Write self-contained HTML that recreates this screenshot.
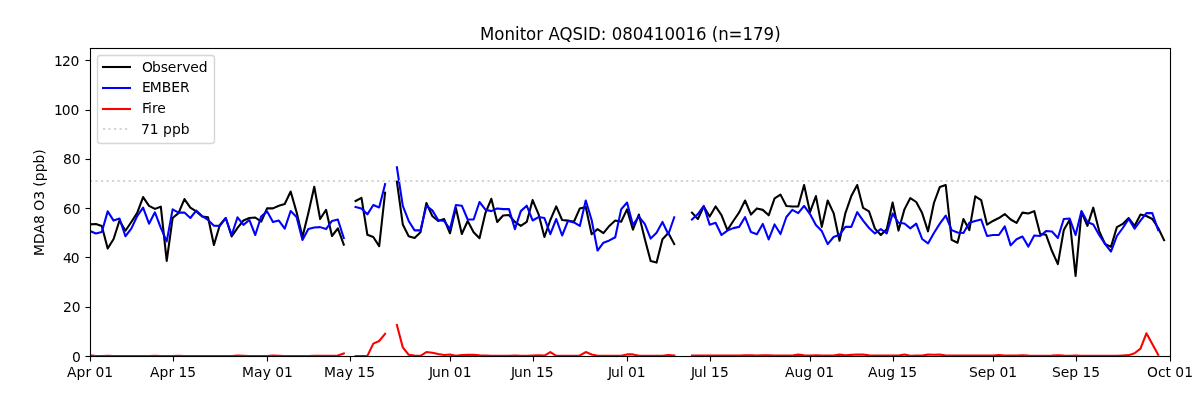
<!DOCTYPE html>
<html lang="en"><head><meta charset="utf-8"><title>Monitor AQSID: 080410016</title>
<style>html,body{margin:0;padding:0;background:#fff}body{width:1200px;height:400px;overflow:hidden}svg{display:block}text{font-family:"DejaVu Sans","Liberation Sans",sans-serif;fill:#000}.t{font-size:13.889px}.ttl{font-size:17.667px}.ln{fill:none;stroke-width:2.0833;stroke-linejoin:round;stroke-linecap:square}.ax{stroke:#000;stroke-width:1.1111;fill:none}</style></head><body>
<svg width="1200" height="400" viewBox="0 0 1200 400">
<rect x="0" y="0" width="1200" height="400" fill="#fff"/>
<defs><clipPath id="c"><rect x="90" y="48" width="1080" height="308"/></clipPath></defs>
<g class="ax">
<path d="M90.5 356.5V361.5"/>
<path d="M173.5 356.5V361.5"/>
<path d="M267.5 356.5V361.5"/>
<path d="M350.5 356.5V361.5"/>
<path d="M450.5 356.5V361.5"/>
<path d="M533.5 356.5V361.5"/>
<path d="M627.5 356.5V361.5"/>
<path d="M710.5 356.5V361.5"/>
<path d="M810.5 356.5V361.5"/>
<path d="M893.5 356.5V361.5"/>
<path d="M993.5 356.5V361.5"/>
<path d="M1076.5 356.5V361.5"/>
<path d="M1170.5 356.5V361.5"/>
<path d="M85.5 356.5H90.5"/>
<path d="M85.5 307.5H90.5"/>
<path d="M85.5 257.5H90.5"/>
<path d="M85.5 208.5H90.5"/>
<path d="M85.5 159.5H90.5"/>
<path d="M85.5 110.5H90.5"/>
<path d="M85.5 60.5H90.5"/>
</g>
<g class="t">
<text x="66.96 76.45 85.51 90.96 95.62 104.2" y="377">Apr 01</text>
<text x="150.08 159.57 168.38 174.08 178.49 187.32" y="377">Apr 15</text>
<text x="241.92 253.89 262.64 270.59 275.26 284.09" y="377">May 01</text>
<text x="324.04 336.01 344.76 352.71 357.13 366.21" y="377">May 15</text>
<text x="428.88 431.95 440.75 449.55 453.7 462.78" y="377">Jun 01</text>
<text x="510.99 514.07 522.87 531.67 536.07 544.65" y="377">Jun 15</text>
<text x="607.89 610.97 619.77 623.63 628.03 636.86" y="377">Jul 01</text>
<text x="691.01 694.09 702.64 706.5 710.9 719.98" y="377">Jul 15</text>
<text x="784.91 794.4 803.2 811.99 816.41 825.24" y="377">Aug 01</text>
<text x="868.03 877.52 886.32 895.11 899.53 908.36" y="377">Aug 15</text>
<text x="969.09 977.64 986.18 994.98 999.39 1008.22" y="377">Sep 01</text>
<text x="1051.96 1060.76 1069.3 1078.1 1082.51 1091.34" y="377">Sep 15</text>
<text x="1146.97 1157.88 1165.52 1170.95 1175.36 1184.19" y="377">Oct 01</text>
</g>
<g class="t">
<text x="71.95" y="362">0</text>
<text x="63.12 71.69" y="312">20</text>
<text x="63.12 70.69" y="263">40</text>
<text x="63.12 71.69" y="214">60</text>
<text x="63.12 71.69" y="164">80</text>
<text x="54.05 61.86 70.44" y="115">100</text>
<text x="54.05 62.11 70.44" y="66">120</text>
</g>
<text class="t" x="-53.53 -41.56 -30.88 -21.39 -12.56 -8.14 2.77 11.59 15.77 21.17 30.23 39.05 47.84" transform="translate(44.000 202.500) rotate(-90)">MDA8 O3 (ppb)</text>
<text class="ttl" x="-159.98 -145.02 -133.96 -122.79 -117.88 -111.21 -100.17 -92.91 -87.31 -75.54 -61.66 -50.45 -45.25 -31.66 -25.72 -19.85 -8.88 2.34 13.58 24.8 36.27 47.26 58.49 69.71 80.95 86.55 93.42 104.36 119.14 130.38 141.6 152.83" transform="translate(630.5 40) scale(0.94 1)">Monitor AQSID: 080410016 (n=179)</text>
<g clip-path="url(#c)">
<path class="ln" stroke="#000" d="M90.00 224.42L95.90 223.93L101.80 225.90L107.70 248.57L113.61 238.96L119.51 220.48L125.41 230.71L131.31 221.96L137.21 212.84L143.11 197.07L149.02 205.94L154.92 208.90L160.82 206.68L166.72 260.89L172.62 218.02L178.52 213.09L184.43 199.04L190.33 207.67L196.23 211.36L202.13 216.54L208.03 217.28L213.93 245.00L219.84 224.92L225.74 218.02L231.64 236.50L237.54 227.87L243.44 220.48L249.34 218.02L255.25 217.52L261.15 221.71L267.05 208.41L272.95 208.41L278.85 205.70L284.75 203.97L290.66 191.53L296.56 212.10L302.46 236.99L308.36 213.09L314.26 186.72L320.16 219.00L326.07 209.76L331.97 236.00L337.87 228.36L343.77 244.63M355.57 201.01L361.48 197.93L367.38 234.77L373.28 236.99L379.18 246.11L385.08 192.76M396.89 181.55L402.79 224.42L408.69 236.25L414.59 237.97L420.49 232.31L426.39 202.99L432.30 216.04L438.20 220.97L444.10 219.00L450.00 233.29L455.90 207.91L461.80 234.03L467.70 220.97L473.61 232.31L479.51 238.22L485.41 213.09L491.31 198.80L497.21 221.96L503.11 215.55L509.02 215.06L514.92 221.96L520.82 225.90L526.72 221.96L532.62 200.03L538.52 214.07L544.43 236.99L550.33 219.99L556.23 206.44L562.13 219.99L568.03 220.60L573.93 221.71L579.84 208.41L585.74 206.93L591.64 234.28L597.54 229.10L603.44 233.05L609.34 225.90L615.25 220.48L621.15 221.71L627.05 209.39L632.95 229.60L638.85 214.57L644.75 238.71L650.66 261.01L656.56 262.61L662.46 239.21L668.36 233.05L674.26 244.13M691.97 212.60L697.87 219.00L703.77 206.44L709.67 216.54L715.57 206.44L721.48 215.06L727.38 230.09L733.28 220.97L739.18 212.35L745.08 200.52L750.98 214.57L756.89 208.41L762.79 209.88L768.69 215.31L774.59 198.30L780.49 194.61L786.39 205.94L792.30 206.44L798.20 206.44L804.10 185.00L810.00 212.10L815.90 196.09L821.80 226.89L827.70 200.52L833.61 213.09L839.51 240.68L845.41 213.09L851.31 196.09L857.21 185.00L863.11 207.91L869.02 211.36L874.92 228.61L880.82 235.02L886.72 229.35L892.62 202.49L898.52 230.58L904.43 209.39L910.33 198.06L916.23 202.00L922.13 213.09L928.03 231.32L933.93 202.99L939.84 186.97L945.74 185.00L951.64 239.82L957.54 242.78L963.44 219.00L969.34 230.09L975.25 196.33L981.15 200.03L987.05 224.67L992.95 220.97L998.85 218.02L1004.75 214.07L1010.66 219.49L1016.56 222.94L1022.46 212.60L1028.36 213.58L1034.26 211.12L1040.16 234.03L1046.07 234.77L1051.97 251.03L1057.87 264.09L1063.77 230.09L1069.67 219.74L1075.57 275.92L1081.48 212.10L1087.38 225.90L1093.28 207.67L1099.18 231.08L1105.08 244.01L1110.98 246.84L1116.89 227.13L1122.79 223.93L1128.69 218.02L1134.59 225.90L1140.49 214.57L1146.39 216.04L1152.30 219.00L1158.20 228.00L1164.10 240.19"/>
<path class="ln" stroke="#00f" d="M90.00 231.08L95.90 233.54L101.80 232.06L107.70 211.36L113.61 220.60L119.51 218.51L125.41 236.25L131.31 228.61L137.21 216.04L143.11 207.67L149.02 223.68L154.92 212.35L160.82 227.87L166.72 241.42L172.62 209.39L178.52 212.60L184.43 212.60L190.33 218.02L196.23 210.62L202.13 216.04L208.03 219.99L213.93 225.65L219.84 225.90L225.74 218.02L231.64 235.02L237.54 217.28L243.44 224.92L249.34 219.99L255.25 235.02L261.15 216.54L267.05 211.36L272.95 221.96L278.85 220.60L284.75 228.61L290.66 210.99L296.56 217.03L302.46 239.95L308.36 229.10L314.26 227.50L320.16 227.13L326.07 229.10L331.97 220.97L337.87 219.49L343.77 237.97M355.57 206.93L361.48 208.41L367.38 214.32L373.28 204.96L379.18 207.42L385.08 184.14M396.89 167.26L402.79 205.94L408.69 220.97L414.59 230.34L420.49 230.34L426.39 205.70L432.30 210.38L438.20 219.99L444.10 220.97L450.00 229.10L455.90 204.96L461.80 205.70L467.70 219.49L473.61 219.49L479.51 202.00L485.41 209.64L491.31 211.12L497.21 208.41L503.11 209.15L509.02 209.15L514.92 229.10L520.82 211.12L526.72 205.70L532.62 220.48L538.52 217.03L544.43 218.02L550.33 234.16L556.23 219.00L562.13 235.51L568.03 220.97L573.93 222.45L579.84 225.90L585.74 200.52L591.64 219.99L597.54 250.54L603.44 242.66L609.34 240.44L615.25 237.24L621.15 209.39L627.05 202.49L632.95 224.92L638.85 216.54L644.75 223.93L650.66 238.59L656.56 232.80L662.46 221.96L668.36 234.28L674.26 217.28M691.97 219.49L697.87 214.07L703.77 205.94L709.67 224.67L715.57 222.70L721.48 235.02L727.38 230.58L733.28 228.12L739.18 226.89L745.08 217.03L750.98 232.06L756.89 234.28L762.79 223.93L768.69 239.45L774.59 224.42L780.49 234.03L786.39 217.03L792.30 209.88L798.20 213.09L804.10 205.94L810.00 214.07L815.90 224.92L821.80 231.08L827.70 244.13L833.61 236.99L839.51 234.77L845.41 226.89L851.31 226.89L857.21 212.10L863.11 220.60L869.02 228.00L874.92 233.42L880.82 229.10L886.72 233.42L892.62 213.58L898.52 222.70L904.43 223.44L910.33 228.36L916.23 223.68L922.13 238.96L928.03 243.40L933.93 233.05L939.84 223.68L945.74 215.55L951.64 230.09L957.54 232.55L963.44 233.05L969.34 222.70L975.25 220.97L981.15 219.49L987.05 236.00L992.95 235.02L998.85 235.02L1004.75 226.39L1010.66 245.37L1016.56 239.21L1022.46 236.50L1028.36 246.60L1034.26 235.51L1040.16 236.00L1046.07 231.08L1051.97 231.57L1057.87 237.97L1063.77 219.00L1069.67 218.51L1075.57 235.02L1081.48 211.12L1087.38 221.96L1093.28 224.42L1099.18 235.02L1105.08 244.01L1110.98 251.53L1116.89 236.00L1122.79 228.00L1128.69 219.00L1134.59 228.61L1140.49 220.60L1146.39 213.09L1152.30 213.09L1158.20 230.09"/>
<path class="ln" stroke="#f00" d="M90.00 355.31L95.90 355.93L101.80 355.93L107.70 355.80L113.61 355.93L119.51 355.93L125.41 355.93L131.31 355.93L137.21 355.93L143.11 355.93L149.02 355.93L154.92 355.80L160.82 355.93L166.72 355.93L172.62 355.93L178.52 355.68L184.43 355.93L190.33 355.93L196.23 355.93L202.13 355.93L208.03 355.93L213.93 355.93L219.84 355.93L225.74 355.93L231.64 355.93L237.54 355.56L243.44 355.80L249.34 355.93L255.25 355.93L261.15 355.93L267.05 355.93L272.95 355.56L278.85 355.80L284.75 355.93L290.66 355.93L296.56 355.93L302.46 355.93L308.36 355.93L314.26 355.80L320.16 355.75L326.07 355.75L331.97 355.70L337.87 355.51L343.77 353.41M355.57 355.93L361.48 355.93L367.38 355.93L373.28 343.61L379.18 340.97L385.08 333.82M396.89 325.08L402.79 347.38L408.69 354.77L414.59 355.56L420.49 355.80L426.39 352.06L432.30 352.80L438.20 353.98L444.10 354.97L450.00 354.57L455.90 355.80L461.80 354.97L467.70 354.77L473.61 354.89L479.51 355.31L485.41 355.56L491.31 355.80L497.21 355.80L503.11 355.80L509.02 355.68L514.92 355.56L520.82 355.80L526.72 355.80L532.62 355.56L538.52 355.31L544.43 355.56L550.33 352.06L556.23 355.80L562.13 355.80L568.03 355.75L573.93 355.75L579.84 355.51L585.74 352.06L591.64 354.52L597.54 355.70L603.44 355.75L609.34 355.75L615.25 355.75L621.15 355.75L627.05 354.40L632.95 354.40L638.85 355.68L644.75 355.75L650.66 355.75L656.56 355.75L662.46 355.75L668.36 355.01L674.26 355.56M691.97 355.63L697.87 355.63L703.77 355.63L709.67 355.63L715.57 355.63L721.48 355.63L727.38 355.51L733.28 355.51L739.18 355.51L745.08 355.38L750.98 355.26L756.89 355.63L762.79 355.38L768.69 355.26L774.59 355.51L780.49 355.63L786.39 355.63L792.30 355.51L798.20 354.64L804.10 355.38L810.00 355.51L815.90 355.26L821.80 355.51L827.70 355.63L833.61 355.51L839.51 354.64L845.41 355.26L851.31 354.89L857.21 354.52L863.11 354.64L869.02 355.26L874.92 355.63L880.82 355.63L886.72 355.63L892.62 355.63L898.52 355.63L904.43 354.52L910.33 355.80L916.23 355.63L922.13 355.63L928.03 354.64L933.93 354.77L939.84 354.64L945.74 355.56L951.64 355.63L957.54 355.63L963.44 355.63L969.34 355.63L975.25 355.63L981.15 355.63L987.05 355.63L992.95 355.63L998.85 355.01L1004.75 355.56L1010.66 355.63L1016.56 355.63L1022.46 355.26L1028.36 355.63L1034.26 355.80L1040.16 355.80L1046.07 355.80L1051.97 355.63L1057.87 355.26L1063.77 355.63L1069.67 355.80L1075.57 355.51L1081.48 355.80L1087.38 355.80L1093.28 355.80L1099.18 355.80L1105.08 355.80L1110.98 355.80L1116.89 355.80L1122.79 355.51L1128.69 355.14L1134.59 353.29L1140.49 348.61L1146.39 333.33L1152.30 343.93L1158.20 354.77"/>
<path d="M90 181H1170" fill="none" stroke="#d3d3d3" stroke-width="2.0833" stroke-dasharray="2.0833 3.4375"/>
</g>
<g class="ax" stroke-linecap="square"><path d="M90.5 356.5V48.5"/><path d="M1170.5 356.5V48.5"/></g><rect x="89.944" y="355.944" width="1081.111" height="1.1111" fill="#000"/><rect x="89.944" y="47.944" width="1081.111" height="1.1111" fill="#000"/>
<path d="M100.278 143.500H211.722Q214.500 143.500 214.500 140.722V58.278Q214.500 55.500 211.722 55.500H100.278Q97.500 55.500 97.500 58.278V140.722Q97.500 143.500 100.278 143.500Z" fill="#fff" stroke="#ccc" stroke-width="1.3889" opacity="0.8"/>
<path class="ln" stroke-linecap="butt" style="stroke-linecap:butt" stroke="#000" d="M102 67H131"/>
<path class="ln" stroke-linecap="butt" style="stroke-linecap:butt" stroke="#00f" d="M102 88H131"/>
<path class="ln" stroke-linecap="butt" style="stroke-linecap:butt" stroke="#f00" d="M102 109H131"/>
<path d="M103 129H130" fill="none" stroke="#d3d3d3" stroke-width="2.0833" stroke-dasharray="2.0833 3.4375"/>
<g class="t">
<text x="141.89 152.05 160.86 167.84 176.62 182.33 190.3 198.83" y="72">Observed</text>
<text x="141.89 149.66 161.87 171.14 179.91" y="92">EMBER</text>
<text x="141.89 148.11 151.95 157.36" y="113">Fire</text>
<text x="140.89 149.7 158.53 162.95 172 180.81" y="134">71 ppb</text>
</g>
</svg></body></html>
